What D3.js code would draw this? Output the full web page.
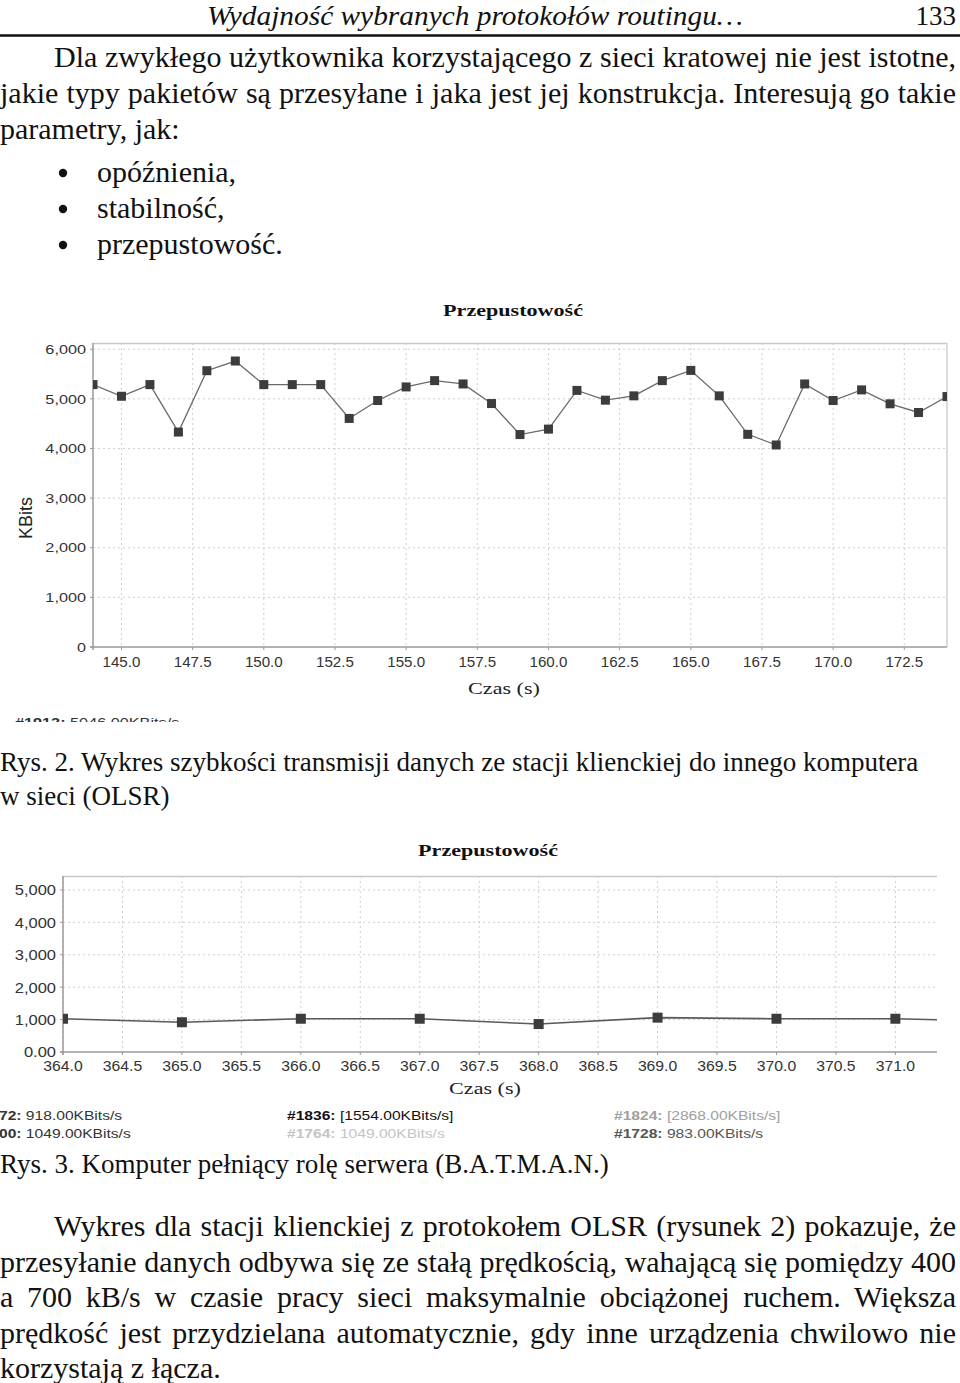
<!DOCTYPE html>
<html><head><meta charset="utf-8">
<script src="https://cdn.jsdelivr.net/npm/d3@7"></script>
<style>body{margin:0;background:#fff}svg{display:block}</style>
</head><body>
<svg id="page" width="960" height="1383"></svg>
<script>
// ---------- DATA ----------
const headerTitle = "Wydajność wybranych protokołów routingu…";
const pageNumber = "133";
const para1 = [
  "Dla zwykłego użytkownika korzystającego z sieci kratowej nie jest istotne,",
  "jakie typy pakietów są przesyłane i jaka jest jej konstrukcja. Interesują go takie",
  "parametry, jak:"
];
const bullets = ["opóźnienia,", "stabilność,", "przepustowość."];
const caption2 = ["Rys. 2. Wykres szybkości transmisji danych ze stacji klienckiej do innego komputera", "w sieci (OLSR)"];
const caption3 = ["Rys. 3. Komputer pełniący rolę serwera (B.A.T.M.A.N.)"];
const para2 = [
  "Wykres dla stacji klienckiej z protokołem OLSR (rysunek 2) pokazuje, że",
  "przesyłanie danych odbywa się ze stałą prędkością, wahającą się pomiędzy 400",
  "a 700 kB/s w czasie pracy sieci maksymalnie obciążonej ruchem. Większa",
  "prędkość jest przydzielana automatycznie, gdy inne urządzenia chwilowo nie",
  "korzystają z łącza."
];

const chartTitle = "Przepustowość";
const xAxisTitle = "Czas (s)";
const yAxisTitle1 = "KBits";

// Chart 1 (OLSR)
const times1 = [144,145,146,147,148,149,150,151,152,153,154,155,156,157,158,159,160,161,162,163,164,165,166,167,168,169,170,171,172,173,174];
const kbits1 = [5287,5052,5287,4331,5567,5762,5287,5287,5287,4605,4966,5240,5367,5300,4905,4280,4390,5170,4973,5060,5367,5573,5060,4285,4070,5300,4966,5180,4900,4725,5046];
const xTicks1 = [145,147.5,150,152.5,155,157.5,160,162.5,165,167.5,170,172.5];
const yTicks1 = [0,1000,2000,3000,4000,5000,6000];
const yTickLabels1 = ["0","1,000","2,000","3,000","4,000","5,000","6,000"];
const legend1 = [{id:"#1912:", val:" 5046.00KBits/s"}];

// Chart 2 (B.A.T.M.A.N.)
const times2 = [364,365,366,367,368,369,370,371,372];
const kbits2 = [1026,918,1026,1026,862,1060,1026,1026,940];
const xTicks2 = [364,364.5,365,365.5,366,366.5,367,367.5,368,368.5,369,369.5,370,370.5,371];
const yTicks2 = [0,1000,2000,3000,4000,5000];
const yTickLabels2 = ["0.00","1,000","2,000","3,000","4,000","5,000"];
const legend2 = [
  {col:0,row:0,id:"72:",   val:" 918.00KBits/s",      c:"#333"},
  {col:0,row:1,id:"00:",   val:" 1049.00KBits/s",     c:"#333"},
  {col:1,row:0,id:"#1836:",val:" [1554.00KBits/s]",   c:"#111"},
  {col:1,row:1,id:"#1764:",val:" 1049.00KBits/s",     c:"#c4c4c4"},
  {col:2,row:0,id:"#1824:",val:" [2868.00KBits/s]",   c:"#a0a0a0"},
  {col:2,row:1,id:"#1728:",val:" 983.00KBits/s",      c:"#555"}
];

// ---------- PAGE ----------
const svg = d3.select("#page");
const SERIF = "'Liberation Serif','Times New Roman',serif";
const SANS = "'Liberation Sans',Arial,sans-serif";

function textLine(str, x, y, fs, opts = {}) {
  const t = svg.append("text").attr("x", x).attr("y", y)
    .attr("font-family", SERIF).attr("font-size", fs).attr("fill", "#111")
    .text(str);
  if (opts.italic) t.attr("font-style", "italic");
  if (opts.anchor) t.attr("text-anchor", opts.anchor);
  if (opts.width) t.attr("textLength", opts.width).attr("lengthAdjust", "spacingAndGlyphs");
  if (opts.justifyTo) {
    const w = t.node().getComputedTextLength();
    const n = (str.match(/ /g) || []).length;
    if (n > 0) t.style("word-spacing", ((opts.justifyTo - x - w) / n) + "px");
  }
  return t;
}

// header
textLine(headerTitle, 207, 25, 27, {italic: true, width: 536});
textLine(pageNumber, 956, 25, 27, {anchor: "end"});
svg.append("line").attr("x1", 0).attr("x2", 960).attr("y1", 35.5).attr("y2", 35.5)
  .attr("stroke", "#111").attr("stroke-width", 2.5);

// paragraph 1
textLine(para1[0], 54, 67, 30, {justifyTo: 956});
textLine(para1[1], 0, 103, 30, {justifyTo: 956});
textLine(para1[2], 0, 139, 30);
bullets.forEach((b, i) => {
  const y = 182 + i * 36;
  svg.append("circle").attr("cx", 63).attr("cy", y - 9).attr("r", 4.2).attr("fill", "#111");
  textLine(b, 97, y, 30);
});

// captions
textLine(caption2[0], 0, 771, 27);
textLine(caption2[1], 0, 805, 27);
textLine(caption3[0], 0, 1173, 27);

// paragraph 2
para2.forEach((s, i) => {
  const y = 1236 + i * 35.5;
  const x = i === 0 ? 54 : 0;
  textLine(s, x, y, 30, i < para2.length - 1 ? {justifyTo: 956} : {});
});

// ---------- CHART HELPERS ----------
function stretchText(g, str, x, y, opts) {
  const t = g.append("text")
    .attr("transform", `translate(${x},${y}) scale(${opts.sx || 1},1)`)
    .attr("font-family", opts.family || SANS)
    .attr("font-size", opts.fs)
    .attr("fill", opts.fill || "#222")
    .attr("text-anchor", opts.anchor || "start")
    .text(str);
  if (opts.bold) t.attr("font-weight", "bold");
  return t;
}

function drawChart(cfg) {
  const g = svg.append("g");
  const x = d3.scaleLinear().domain(cfg.xDomain).range([cfg.left, cfg.right]);
  const y = d3.scaleLinear().domain(cfg.yDomain).range([cfg.bottom, cfg.top]);
  const clipId = "clip" + cfg.id;
  svg.append("defs").append("clipPath").attr("id", clipId)
    .append("rect").attr("x", cfg.left).attr("y", cfg.top)
    .attr("width", cfg.right - cfg.left).attr("height", cfg.bottom - cfg.top);

  // grid
  g.selectAll(".vg").data(cfg.xTicks).join("line")
    .attr("x1", d => x(d)).attr("x2", d => x(d))
    .attr("y1", cfg.top).attr("y2", cfg.bottom)
    .attr("stroke", "#cfcfcf").attr("stroke-dasharray", "2,3").attr("stroke-width", 1);
  g.selectAll(".hg").data(cfg.yTicks.filter(d => d > 0)).join("line")
    .attr("x1", cfg.left).attr("x2", cfg.right)
    .attr("y1", d => y(d)).attr("y2", d => y(d))
    .attr("stroke", "#cfcfcf").attr("stroke-dasharray", "2,3").attr("stroke-width", 1);

  // frame
  g.append("line").attr("x1", cfg.left).attr("x2", cfg.right).attr("y1", cfg.top + 0.5).attr("y2", cfg.top + 0.5)
    .attr("stroke", "#c8c8c8").attr("stroke-width", 1.5);
  if (cfg.rightBorder)
    g.append("line").attr("x1", cfg.right).attr("x2", cfg.right).attr("y1", cfg.top).attr("y2", cfg.bottom)
      .attr("stroke", "#d0d0d0").attr("stroke-width", 1.5);
  g.append("line").attr("x1", cfg.left).attr("x2", cfg.left).attr("y1", cfg.top).attr("y2", cfg.bottom + 3)
    .attr("stroke", "#9a9a9a").attr("stroke-width", 1.5);
  g.append("line").attr("x1", cfg.left - 3).attr("x2", cfg.right).attr("y1", cfg.bottom).attr("y2", cfg.bottom)
    .attr("stroke", "#9a9a9a").attr("stroke-width", 1.5);
  // tick marks
  g.selectAll(".xt").data(cfg.xTicks).join("line")
    .attr("x1", d => x(d)).attr("x2", d => x(d)).attr("y1", cfg.bottom).attr("y2", cfg.bottom + 3)
    .attr("stroke", "#9a9a9a");
  g.selectAll(".yt").data(cfg.yTicks).join("line")
    .attr("x1", cfg.left - 3).attr("x2", cfg.left).attr("y1", d => y(d)).attr("y2", d => y(d))
    .attr("stroke", "#9a9a9a");

  // tick labels
  cfg.yTicks.forEach((d, i) => {
    stretchText(g, cfg.yLabels[i], cfg.left - 7, y(d) + cfg.yfs * 0.36, {fs: cfg.yfs, sx: cfg.ysx, anchor: "end", fill: "#333"});
  });
  cfg.xTicks.forEach(d => {
    stretchText(g, d3.format(".1f")(d), x(d), cfg.xLabelY, {fs: cfg.xfs, sx: cfg.xsx, anchor: "middle", fill: "#333"});
  });

  // data
  const pts = cfg.times.map((t, i) => [t, cfg.values[i]]);
  const dg = g.append("g").attr("clip-path", `url(#${clipId})`);
  dg.append("path").datum(pts)
    .attr("d", d3.line().x(d => x(d[0])).y(d => y(d[1])))
    .attr("fill", "none").attr("stroke", cfg.lineColor).attr("stroke-width", cfg.lineWidth);
  dg.selectAll("rect").data(pts).join("rect")
    .attr("x", d => x(d[0]) - cfg.ms / 2).attr("y", d => y(d[1]) - cfg.ms / 2)
    .attr("width", cfg.ms).attr("height", cfg.ms).attr("fill", "#3c3c3c");

  // titles
  stretchText(g, chartTitle, cfg.titleX, cfg.titleY, {fs: 17, sx: 1.3, anchor: "middle", family: SERIF, bold: true, fill: "#111"});
  stretchText(g, xAxisTitle, cfg.xTitleX, cfg.xTitleY, {fs: 17, sx: 1.3, anchor: "middle", family: SERIF, fill: "#222"});
  return {g, x, y};
}

// Chart 1
const c1 = drawChart({
  id: 1, left: 93, right: 947, top: 343, bottom: 647,
  xDomain: [144, 174], yDomain: [0, 6125],
  xTicks: xTicks1, yTicks: yTicks1, yLabels: yTickLabels1,
  times: times1, values: kbits1,
  yfs: 13, ysx: 1.25, xfs: 14, xsx: 1.08, xLabelY: 667,
  lineColor: "#6a6a6a", lineWidth: 1.3, ms: 9, rightBorder: true,
  titleX: 513, titleY: 316, xTitleX: 504, xTitleY: 694
});
c1.g.append("text").attr("transform", "translate(32,518) rotate(-90)")
  .attr("font-family", SANS).attr("font-size", 18).attr("text-anchor", "middle")
  .attr("fill", "#222").text(yAxisTitle1);

// Chart 1 legend (cut off by the screenshot edge)
svg.append("defs").append("clipPath").attr("id", "legclip")
  .append("rect").attr("x", 0).attr("y", 700).attr("width", 960).attr("height", 22);
const lg1 = svg.append("g").attr("clip-path", "url(#legclip)");
legend1.forEach(d => {
  const t = lg1.append("text").attr("transform", "translate(15,727) scale(1.3,1)")
    .attr("font-family", SANS).attr("font-size", 12.5).attr("fill", "#333");
  t.append("tspan").attr("font-weight", "bold").text(d.id);
  t.append("tspan").text(d.val);
});

// Chart 2
const c2 = drawChart({
  id: 2, left: 63, right: 937, top: 876, bottom: 1052,
  xDomain: [364, 371.35], yDomain: [0, 5430],
  xTicks: xTicks2, yTicks: yTicks2, yLabels: yTickLabels2,
  times: times2, values: kbits2,
  yfs: 15, ysx: 1.1, xfs: 15, xsx: 1.05, xLabelY: 1071,
  lineColor: "#5a5a5a", lineWidth: 1.6, ms: 10, rightBorder: false,
  titleX: 488, titleY: 856, xTitleX: 485, xTitleY: 1094
});

// Chart 2 legend
const colX = [-1, 287, 614];
legend2.forEach(d => {
  const t = svg.append("text")
    .attr("transform", `translate(${colX[d.col]},${1120 + d.row * 18}) scale(1.3,1)`)
    .attr("font-family", SANS).attr("font-size", 12).attr("fill", d.c);
  t.append("tspan").attr("font-weight", "bold").text(d.id);
  t.append("tspan").text(d.val);
});
</script>
</body></html>
